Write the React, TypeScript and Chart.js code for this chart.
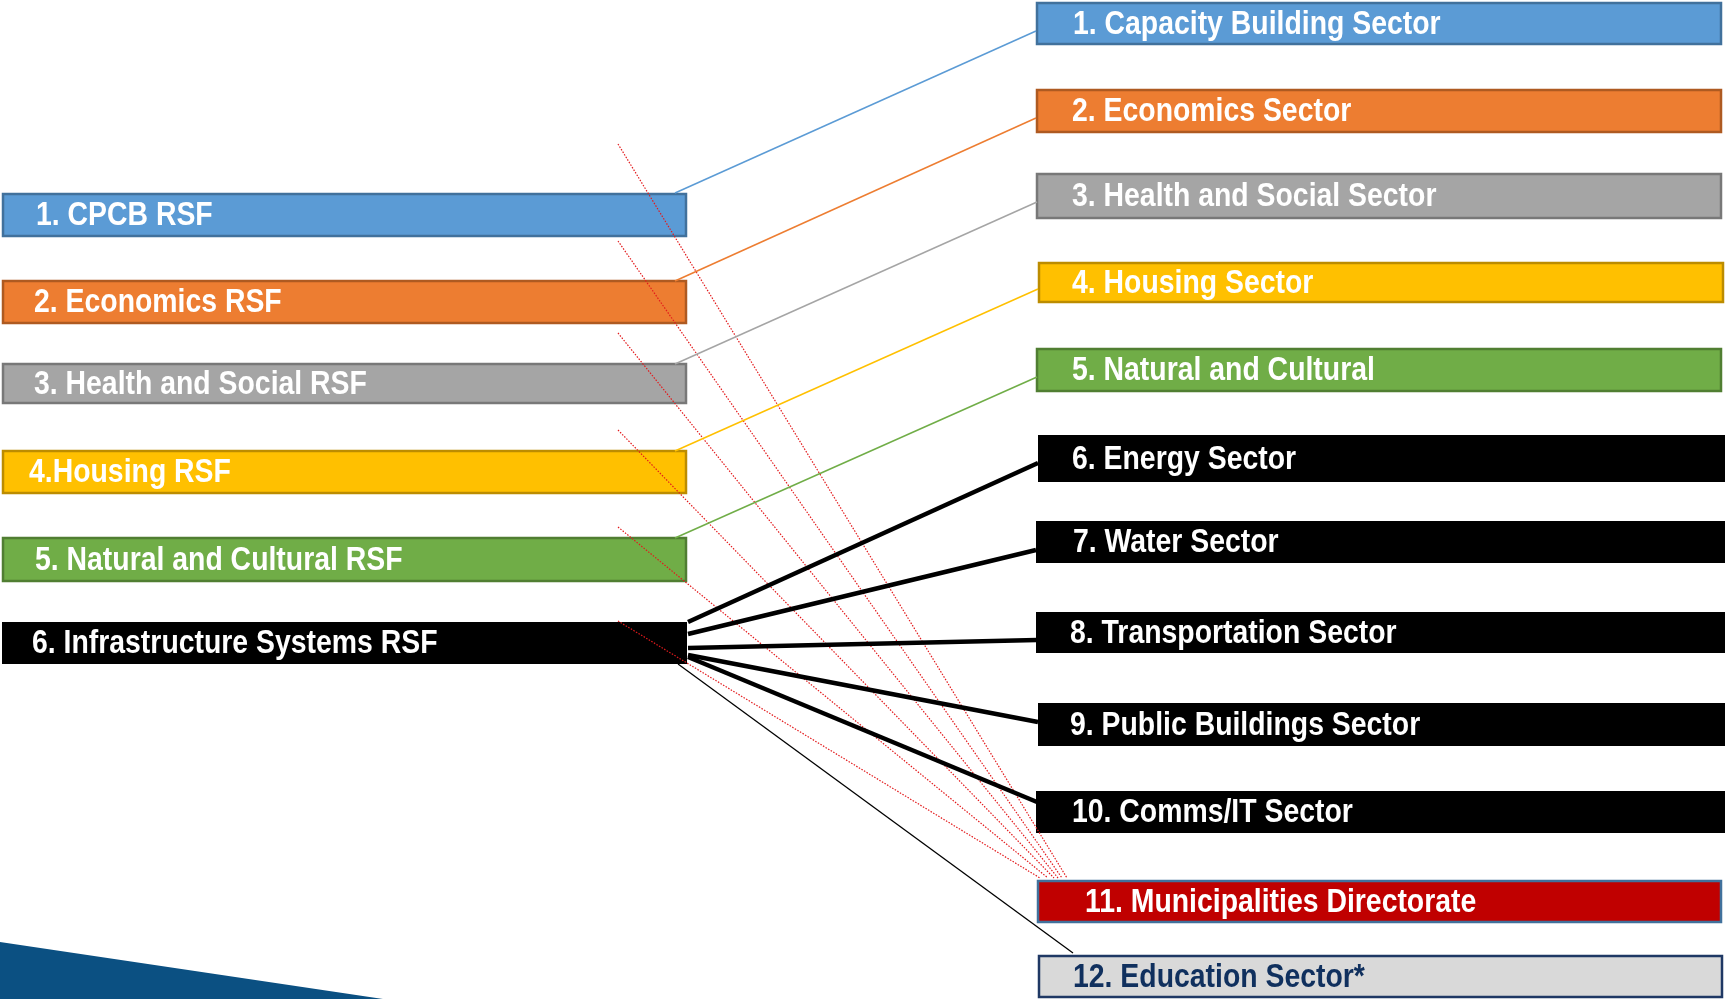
import React, { useEffect, useRef } from "react";
import { Chart, registerables } from "chart.js";
Chart.register(...registerables);

const W = 1725;
const H = 999;

// Left column (RSFs)
const leftLabels = [
  "1. CPCB RSF",
  "2. Economics RSF",
  "3. Health and Social RSF",
  "4.Housing RSF",
  "5. Natural and Cultural RSF",
  "6. Infrastructure Systems RSF",
];
const leftTop = [193, 280, 363, 450, 537, 622];
const leftBottom = [237, 324, 404, 494, 582, 664];
const leftTextX = [36, 34, 34, 29, 35, 32];
const leftFill = ["#5b9bd5", "#ed7d31", "#a5a5a5", "#ffc000", "#70ad47", "#000000"];
const leftStroke = ["#41719c", "#ae5a21", "#787878", "#bc8c00", "#507e32", null];
const leftXRange = [2, 687];

// Right column (Sectors)
const rightLabels = [
  "1. Capacity Building Sector",
  "2. Economics Sector",
  "3. Health and Social Sector",
  "4. Housing Sector",
  "5. Natural and Cultural",
  "6. Energy Sector",
  "7. Water Sector",
  "8. Transportation Sector",
  "9. Public Buildings Sector",
  "10. Comms/IT Sector",
  "11. Municipalities Directorate",
  "12. Education Sector*",
];
const rightTop = [2, 89, 173, 262, 348, 435, 521, 612, 703, 791, 880, 955];
const rightBottom = [45, 133, 219, 303, 392, 482, 563, 653, 746, 833, 923, 998];
const rightLeft = [1036, 1036, 1036, 1038, 1036, 1038, 1036, 1036, 1038, 1036, 1037, 1038];
const rightRight = [1722, 1722, 1722, 1724, 1722, 1725, 1725, 1725, 1725, 1725, 1722, 1723];
const rightTextX = [1073, 1072, 1072, 1072, 1072, 1072, 1073, 1070, 1070, 1072, 1085, 1073];
const rightFill = [
  "#5b9bd5", "#ed7d31", "#a5a5a5", "#ffc000", "#70ad47",
  "#000000", "#000000", "#000000", "#000000", "#000000",
  "#c00000", "#d9d9d9",
];
const rightStroke = [
  "#41719c", "#ae5a21", "#787878", "#bc8c00", "#507e32",
  null, null, null, null, null,
  "#41719c", "#1f3864",
];
const rightTextColor = [
  "#ffffff", "#ffffff", "#ffffff", "#ffffff", "#ffffff",
  "#ffffff", "#ffffff", "#ffffff", "#ffffff", "#ffffff",
  "#ffffff", "#10305e",
];

// Coloured RSF -> Sector links
const colorLinkX0 = [675, 675, 675, 675, 675];
const colorLinkY0 = [193, 281, 364, 451, 538];
const colorLinkX1 = [1036, 1036, 1037, 1038, 1037];
const colorLinkY1 = [31, 118, 202, 289, 377];
const colorLinkColor = ["#5b9bd5", "#ed7d31", "#a5a5a5", "#ffc000", "#70ad47"];

// Infrastructure -> sub-sectors (thick black)
const blackLinkY0 = [622, 634, 648, 655, 657];
const blackLinkX1 = [1038, 1036, 1037, 1038, 1037];
const blackLinkY1 = [463, 550, 640, 722, 802];
const blackLinkX0 = 688;

// Infrastructure -> Education (thin black)
const eduLink = { x: [678, 1073], y: [664, 953] };

// Dotted red links to Municipalities
const redY0 = [144, 241, 333, 430, 527, 621];
const redX0 = 618;
const redX1 = [1067, 1062, 1058, 1054, 1048, 1040];
const redY1 = 878;

// Decorative swoosh (bottom-left)
const swooshX = [0, 383, 0];
const swooshY = [942, 999, 999];

const FONT = 'bold 34px "Liberation Sans", Arial, sans-serif';
const TEXT_SQUEEZE = 0.835;

export default function App() {
  const ref = useRef<HTMLCanvasElement | null>(null);

  useEffect(() => {
    document.body.style.margin = "0";
    const canvas = ref.current;
    if (!canvas) return;

    const boxPlugin = {
      id: "boxes",
      beforeDatasetsDraw(chart: any) {
        const { ctx } = chart;
        const sx = chart.scales.x;
        const sy = chart.scales.y;
        const px = (v: number) => sx.getPixelForValue(v);
        const py = (v: number) => sy.getPixelForValue(v);
        ctx.save();

        // swoosh
        ctx.beginPath();
        swooshX.forEach((v, i) => {
          if (i === 0) ctx.moveTo(px(v), py(swooshY[i]));
          else ctx.lineTo(px(v), py(swooshY[i]));
        });
        ctx.closePath();
        ctx.fillStyle = "#0b5082";
        ctx.fill();

        const drawBox = (
          x0: number, x1: number, y0: number, y1: number,
          fill: string, stroke: string | null, label: string, tx: number, color: string
        ) => {
          const X0 = px(x0), X1 = px(x1), Y0 = py(y0), Y1 = py(y1);
          ctx.fillStyle = fill;
          ctx.fillRect(X0, Y0, X1 - X0, Y1 - Y0);
          if (stroke) {
            ctx.strokeStyle = stroke;
            ctx.lineWidth = 2.5;
            ctx.strokeRect(X0 + 1, Y0 + 1, X1 - X0 - 2, Y1 - Y0 - 2);
          }
          const mid = (Y0 + Y1) / 2;
          ctx.save();
          ctx.translate(px(tx), mid + 10);
          ctx.scale(TEXT_SQUEEZE, 1);
          ctx.font = FONT;
          ctx.fillStyle = color;
          ctx.textAlign = "left";
          ctx.textBaseline = "alphabetic";
          ctx.fillText(label, 0, 0);
          ctx.restore();
        };

        leftLabels.forEach((lab, i) => {
          drawBox(leftXRange[0], leftXRange[1], leftTop[i], leftBottom[i],
            leftFill[i], leftStroke[i], lab, leftTextX[i], "#ffffff");
        });
        rightLabels.forEach((lab, i) => {
          drawBox(rightLeft[i], rightRight[i], rightTop[i], rightBottom[i],
            rightFill[i], rightStroke[i], lab, rightTextX[i], rightTextColor[i]);
        });
        ctx.restore();
      },
    };

    const seg = (x0: number, y0: number, x1: number, y1: number, color: string, width: number, dash: number[] = []) => ({
      type: "line" as const,
      data: [{ x: x0, y: y0 }, { x: x1, y: y1 }],
      borderColor: color,
      borderWidth: width,
      borderDash: dash,
      borderCapStyle: "butt" as const,
      pointRadius: 0,
      showLine: true,
      fill: false,
      clip: false as const,
    });

    const datasets: any[] = [];
    colorLinkX0.forEach((x0, i) => {
      datasets.push(seg(x0, colorLinkY0[i], colorLinkX1[i], colorLinkY1[i], colorLinkColor[i], 1.5));
    });
    blackLinkY0.forEach((y0, i) => {
      datasets.push(seg(blackLinkX0, y0, blackLinkX1[i], blackLinkY1[i], "#000000", 4.5));
    });
    datasets.push(seg(eduLink.x[0], eduLink.y[0], eduLink.x[1], eduLink.y[1], "#000000", 1.3));
    redY0.forEach((y0, i) => {
      datasets.push(seg(redX0, y0, redX1[i], redY1, "#e31a1c", 1.2, [1.5, 1.5]));
    });

    const chart = new Chart(canvas, {
      type: "scatter",
      data: { datasets },
      options: {
        responsive: false,
        animation: false,
        maintainAspectRatio: false,
        layout: { padding: 0 },
        scales: {
          x: { type: "linear", min: 0, max: W, display: false },
          y: { type: "linear", min: 0, max: H, reverse: true, display: false },
        },
        plugins: {
          legend: { display: false },
          tooltip: { enabled: false },
        },
        elements: { point: { radius: 0 } },
      },
      plugins: [boxPlugin],
    });
    return () => chart.destroy();
  }, []);

  return (
    <div style={{ width: W, height: H, background: "#ffffff" }}>
      <canvas ref={ref} width={W} height={H} style={{ display: "block" }} />
    </div>
  );
}
